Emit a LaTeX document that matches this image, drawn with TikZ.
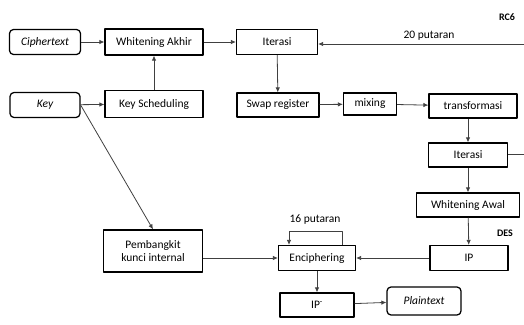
\documentclass[tikz,border=0pt]{standalone}
\usepackage{fontspec}
\setmainfont{Carlito}
\usetikzlibrary{arrows.meta}

\begin{document}
\begin{tikzpicture}[x=1pt,y=-1pt,line join=round,
    box/.style={draw,line width=1.25pt,inner sep=0pt,align=center,font=\fontsize{11.5}{13}\selectfont},
    term/.style={box,rounded corners=4pt,font=\fontsize{11.5}{13}\selectfont\itshape},
    conn/.style={draw=black!75,line width=0.8pt,-{Latex[length=5pt,width=4.5pt]}},
    lbl/.style={font=\fontsize{11.5}{13}\selectfont}]
    \useasboundingbox (0,0) rectangle (524,324);
    \node[term,minimum width=71,minimum height=25] (cipher) at (45,42) {Ciphertext};
    \node[box,minimum width=98,minimum height=26] (wakhir) at (154,42) {Whitening Akhir};
    \node[box,minimum width=81,minimum height=25] (iterA) at (277,42) {Iterasi};
    \node[term,minimum width=70,minimum height=25] (key) at (45,105) {Key};
    \node[box,minimum width=98,minimum height=27] (ksched) at (154,104) {Key Scheduling};
    \node[box,minimum width=82,minimum height=24] (swap) at (278,105) {Swap register};
    \node[box,minimum width=53,minimum height=22] (mixing) at (370,104) {mixing};
    \node[box,minimum width=88,minimum height=24] (transf) at (473,106) {transformasi};
    \node[box,minimum width=79,minimum height=24] (iterB) at (468,155) {Iterasi};
    \node[box,minimum width=103,minimum height=24] (wawal) at (468,205) {Whitening Awal};
    \node[box,minimum width=78,minimum height=25] (ip) at (469,258) {IP};
    \node[box,minimum width=77,minimum height=25] (enc) at (317,258) {Enciphering};
    \node[box,minimum width=99,minimum height=42] (pkunci) at (153,251) {Pembangkit\\kunci internal};
    \node[box,minimum width=74,minimum height=24] (ipinv) at (317,305) {IP\textsuperscript{-}};
    \node[term,minimum width=74,minimum height=28] (plain) at (424,301) {Plaintext};
    \node[lbl,font=\fontsize{10}{12}\selectfont\bfseries] (rcsix) at (507,17) {RC6};
    \node[lbl,font=\fontsize{10}{12}\selectfont\bfseries] (des) at (505,233) {DES};
    \node[lbl] (puluh) at (429,36) {20 putaran};
    \node[lbl] (enam) at (315,220) {16 putaran};
    \coordinate (kanA) at (524,44);
    \coordinate (kanB) at (524,154);
    \draw[conn] (cipher) -- (wakhir);
    \draw[conn] (wakhir) -- (iterA);
    \draw[conn] (ksched) -- (wakhir);
    \draw[conn] (key) -- (ksched);
    \draw[conn] (key.east) -- (pkunci.north);
    \draw[conn] (kanA) -- (kanA -| iterA.east);
    \draw[conn] (iterA) -- (swap);
    \draw[conn] (swap) -- (mixing);
    \draw[conn] (mixing) -- (transf);
    \draw[conn] (transf.south -| iterB) -- (iterB);
    \draw[conn,-] (iterB.east |- kanB) -- (kanB);
    \draw[conn] (iterB) -- (wawal);
    \draw[conn] (wawal) -- (ip);
    \draw[conn] (ip) -- (enc);
    \draw[conn] (pkunci.east |- enc.west) -- (enc.west);
    \draw[conn] ([xshift=25pt]enc.north) -- ++(0,-13) -| ([xshift=-28pt]enc.north);
    \draw[conn] (enc) -- (ipinv);
    \draw[conn] (ipinv) -- (plain);
\end{tikzpicture}
\end{document}
